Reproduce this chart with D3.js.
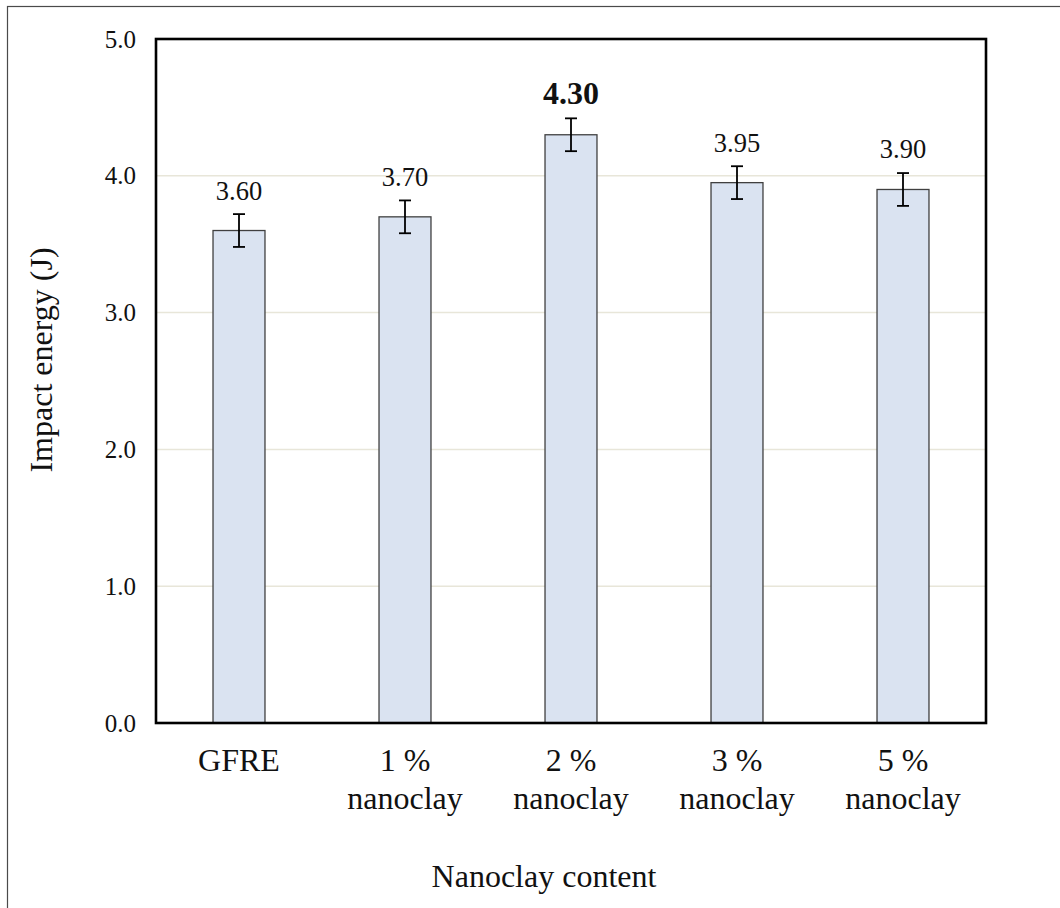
<!DOCTYPE html>
<html>
<head>
<meta charset="utf-8">
<script src="https://cdn.jsdelivr.net/npm/d3@7"></script>
<style>
  html, body { margin: 0; padding: 0; background: #fff; }
  svg { display: block; font-family: "Liberation Serif", "Times New Roman", serif; }
</style>
</head>
<body>
<svg id="chart" width="1060" height="908"></svg>
<script>
// Impact energy of GFRE laminates with nanoclay additions
const categories = ["GFRE", "1 % nanoclay", "2 % nanoclay", "3 % nanoclay", "5 % nanoclay"];
const categoryLines = [["GFRE"], ["1 %", "nanoclay"], ["2 %", "nanoclay"], ["3 %", "nanoclay"], ["5 %", "nanoclay"]];
const impactEnergy = [3.60, 3.70, 4.30, 3.95, 3.90];
const errorValues = [0.12, 0.12, 0.12, 0.12, 0.12];
const valueLabels = ["3.60", "3.70", "4.30", "3.95", "3.90"];
const highlighted = [false, false, true, false, false];
const yTicks = [0, 1, 2, 3, 4, 5];
const yDomain = [0, 5];
const xTitle = "Nanoclay content";
const yTitle = "Impact energy (J)";

const svg = d3.select("#chart");
const plot = { left: 156, right: 986, top: 39, bottom: 723 };

// outer frame
svg.append("rect")
  .attr("x", 7.5).attr("y", 6.5)
  .attr("width", 1100).attr("height", 1000)
  .attr("fill", "none").attr("stroke", "#4a4a4a").attr("stroke-width", 1.2);

const x = d3.scaleBand()
  .domain(categories)
  .range([plot.left, plot.right])
  .paddingInner(0.687)
  .paddingOuter(0.3435);

const y = d3.scaleLinear().domain(yDomain).range([plot.bottom, plot.top]);

// horizontal gridlines
svg.append("g")
  .selectAll("line")
  .data(yTicks.filter(t => t > 0 && t < 5))
  .join("line")
  .attr("x1", plot.left).attr("x2", plot.right)
  .attr("y1", d => y(d)).attr("y2", d => y(d))
  .attr("stroke", "#e8e6d9").attr("stroke-width", 1.5);

// y axis labels
const yAxis = svg.append("g")
  .attr("transform", `translate(${plot.left},0)`)
  .call(d3.axisLeft(y).tickValues(yTicks).tickFormat(d3.format(".1f")).tickSize(0).tickPadding(20));
yAxis.select(".domain").remove();
yAxis.selectAll("text")
  .attr("font-family", "Liberation Serif, Times New Roman, serif")
  .attr("font-size", 25)
  .attr("fill", "#111");

// bars
svg.append("g")
  .selectAll("rect")
  .data(categories)
  .join("rect")
  .attr("x", d => x(d))
  .attr("y", (d, i) => y(impactEnergy[i]))
  .attr("width", x.bandwidth())
  .attr("height", (d, i) => y(0) - y(impactEnergy[i]))
  .attr("fill", "#dae3f1")
  .attr("stroke", "#404040")
  .attr("stroke-width", 1.3);

// error bars
const eb = svg.append("g").attr("stroke", "#000").attr("stroke-width", 1.8);
categories.forEach((c, i) => {
  const cx = x(c) + x.bandwidth() / 2;
  const hi = y(impactEnergy[i] + errorValues[i]);
  const lo = y(impactEnergy[i] - errorValues[i]);
  eb.append("line").attr("x1", cx).attr("x2", cx).attr("y1", hi).attr("y2", lo);
  eb.append("line").attr("x1", cx - 6).attr("x2", cx + 6).attr("y1", hi).attr("y2", hi);
  eb.append("line").attr("x1", cx - 6).attr("x2", cx + 6).attr("y1", lo).attr("y2", lo);
});

// value labels
svg.append("g")
  .selectAll("text")
  .data(categories)
  .join("text")
  .attr("x", d => x(d) + x.bandwidth() / 2)
  .attr("y", (d, i) => y(impactEnergy[i]) - 31)
  .attr("text-anchor", "middle")
  .attr("font-size", (d, i) => highlighted[i] ? 32 : 26.5)
  .attr("font-weight", (d, i) => highlighted[i] ? "bold" : "normal")
  .attr("fill", "#111")
  .text((d, i) => valueLabels[i]);

// plot area border
svg.append("rect")
  .attr("x", plot.left).attr("y", plot.top)
  .attr("width", plot.right - plot.left).attr("height", plot.bottom - plot.top)
  .attr("fill", "none").attr("stroke", "#000").attr("stroke-width", 2.6);

// category labels
const catG = svg.append("g");
categories.forEach((c, i) => {
  const t = catG.append("text")
    .attr("text-anchor", "middle")
    .attr("font-size", 32)
    .attr("fill", "#111");
  categoryLines[i].forEach((line, j) => {
    t.append("tspan")
      .attr("x", x(c) + x.bandwidth() / 2)
      .attr("y", 771 + j * 37.5)
      .text(line);
  });
});

// axis titles
svg.append("text")
  .attr("x", 544).attr("y", 887)
  .attr("text-anchor", "middle")
  .attr("font-size", 32)
  .attr("fill", "#111")
  .text(xTitle);

svg.append("text")
  .attr("transform", "translate(52,360) rotate(-90)")
  .attr("text-anchor", "middle")
  .attr("font-size", 32)
  .attr("fill", "#111")
  .text(yTitle);
</script>
</body>
</html>
